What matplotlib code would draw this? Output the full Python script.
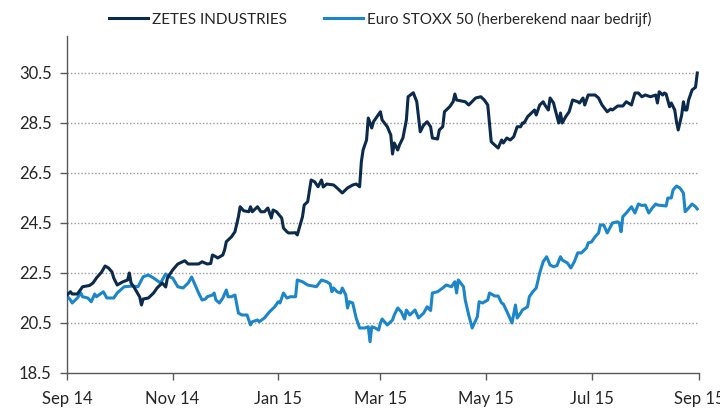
import numpy as np
import pandas as pd
import matplotlib
matplotlib.use("Agg")
import matplotlib.pyplot as plt
import matplotlib.dates as mdates

plt.rcParams['font.family'] = ['Lato', 'DejaVu Sans']

# days since 2014-09-01 and closing values
zetes_days = [0, 2, 3, 6, 9, 13, 15, 17, 20, 22, 24, 26, 27, 29, 32, 35, 36, 37, 39, 42,
              43, 44, 47, 50, 52, 55, 57, 58, 61, 64, 68, 70, 76, 78, 81, 83, 84, 86, 87, 90,
              91, 92, 95, 97, 99, 100, 102, 105, 106, 107, 110, 112, 114, 116, 118, 119, 121, 124, 125, 127,
              128, 132, 133, 136, 137, 139, 141, 143, 145, 147, 148, 150, 154, 156, 159, 162, 165, 167, 169, 170,
              171, 173, 174, 176, 177, 179, 181, 182, 185, 187, 188, 189, 191, 192, 194, 196, 197, 200, 202, 203,
              204, 206, 208, 210, 211, 214, 215, 217, 218, 221, 223, 224, 225, 230, 232, 236, 239, 241, 243, 245,
              247, 249, 251, 252, 254, 256, 258, 260, 262, 263, 264, 266, 269, 270, 271, 273, 275, 276, 278, 279,
              281, 282, 284, 285, 286, 288, 290, 292, 295, 296, 298, 299, 301, 305, 307, 309, 312, 314, 315, 318,
              321, 323, 326, 328, 330, 332, 334, 337, 340, 341, 342, 344, 345, 346, 348, 349, 351, 352, 353, 355,
              356, 357, 358, 359, 361, 363, 364]
zetes = [21.62, 21.75, 21.66, 21.66, 21.95, 22.0, 22.1, 22.3, 22.54, 22.78, 22.7, 22.54, 22.3, 22.02, 22.14, 22.22, 22.5, 22.1, 21.9, 21.54,
         21.22, 21.46, 21.5, 21.7, 21.9, 22.1, 21.94, 22.3, 22.62, 22.86, 22.99, 22.86, 22.86, 22.95, 22.86, 22.88, 23.22, 23.15, 23.1, 23.22,
         23.42, 23.75, 23.95, 24.15, 24.75, 25.15, 24.99, 24.95, 25.15, 24.95, 25.15, 24.95, 24.95, 25.1, 24.7, 25.02, 24.95, 24.7, 24.3, 24.15,
         24.1, 24.11, 24.02, 24.75, 25.22, 25.35, 26.22, 26.15, 25.95, 26.22, 25.94, 26.06, 26.02, 25.9, 25.7, 25.9, 26.02, 26.06, 25.95, 26.95,
         27.42, 27.82, 28.7, 28.3, 28.55, 28.75, 28.95, 28.62, 28.35, 28.02, 27.26, 27.7, 27.42, 27.62, 27.9, 28.62, 29.55, 29.71, 29.35, 28.75,
         28.15, 28.42, 28.55, 28.35, 27.9, 27.86, 28.22, 28.35, 28.95, 29.15, 29.35, 29.66, 29.42, 29.35, 29.22, 29.5, 29.55, 29.42, 29.22, 27.75,
         27.62, 27.5, 27.82, 27.7, 27.9, 27.82, 27.95, 28.35, 28.35, 28.5, 28.5, 28.75, 28.95, 29.02, 28.82, 29.22, 29.35, 29.22, 29.02, 29.5,
         29.3, 29.02, 28.5, 28.9, 28.5, 28.75, 28.95, 29.42, 29.35, 29.3, 29.5, 29.22, 29.62, 29.62, 29.5, 29.22, 28.95, 29.06, 29.02, 29.18,
         29.18, 29.35, 29.22, 29.7, 29.7, 29.55, 29.62, 29.55, 29.62, 29.3, 29.75, 29.62, 29.7, 29.66, 29.15, 29.3, 29.02, 28.55, 28.22, 28.82,
         29.35, 29.02, 29.02, 29.42, 29.82, 29.93, 30.5]

stoxx_days = [0, 2, 3, 6, 8, 9, 12, 14, 16, 17, 21, 23, 27, 29, 33, 38, 41, 44, 47, 50,
              54, 57, 59, 61, 64, 67, 70, 72, 74, 76, 78, 80, 81, 84, 85, 86, 88, 90, 92, 93,
              95, 97, 99, 101, 104, 106, 107, 110, 111, 114, 117, 120, 122, 123, 125, 127, 129, 132, 133, 136,
              139, 144, 147, 150, 152, 153, 154, 156, 158, 159, 161, 162, 163, 165, 167, 169, 172, 174, 175, 176,
              178, 180, 181, 182, 185, 188, 189, 191, 193, 195, 196, 198, 201, 203, 206, 208, 210, 211, 214, 217,
              219, 222, 224, 225, 226, 229, 230, 232, 234, 237, 238, 240, 243, 244, 247, 249, 251, 252, 255, 257,
              259, 260, 262, 263, 266, 267, 269, 271, 273, 275, 277, 279, 281, 283, 285, 286, 289, 291, 293, 295,
              297, 300, 301, 303, 305, 307, 308, 310, 312, 315, 318, 319, 320, 321, 323, 326, 328, 330, 332, 334,
              336, 338, 340, 341, 346, 347, 349, 350, 352, 354, 356, 357, 359, 361, 363, 364]
stoxx = [21.58, 21.42, 21.3, 21.5, 21.7, 21.55, 21.5, 21.35, 21.66, 21.55, 21.75, 21.5, 21.5, 21.7, 21.95, 21.98, 21.95, 22.35, 22.42, 22.3,
         22.1, 22.46, 22.35, 22.3, 21.95, 21.9, 22.1, 22.34, 22.02, 21.7, 21.42, 21.46, 21.55, 21.62, 21.7, 21.42, 21.3, 21.5, 21.82, 21.55,
         21.55, 21.62, 20.9, 20.82, 20.82, 20.42, 20.55, 20.62, 20.55, 20.7, 20.95, 21.15, 21.35, 21.3, 21.7, 21.5, 21.55, 21.55, 22.22, 22.15,
         22.02, 21.95, 22.22, 22.15, 22.06, 21.75, 21.9, 21.75, 21.7, 21.9, 21.62, 21.1, 21.35, 21.3, 20.7, 20.3, 20.3, 20.35, 19.75, 20.35,
         20.3, 20.22, 20.5, 20.66, 20.42, 20.62, 20.82, 21.1, 20.95, 20.66, 21.02, 20.82, 21.02, 20.7, 20.9, 21.15, 21.0, 21.7, 21.75, 21.9,
         22.02, 21.95, 22.15, 21.7, 22.22, 21.95, 21.42, 20.82, 20.3, 20.75, 21.35, 21.3, 21.42, 21.7, 21.58, 21.58, 21.3, 21.26, 20.82, 20.5,
         21.22, 20.7, 20.9, 21.02, 21.15, 21.55, 21.75, 21.9, 22.5, 22.95, 23.15, 22.82, 22.75, 22.8, 23.15, 23.02, 22.9, 22.7, 22.95, 23.31,
         23.3, 23.5, 23.7, 23.75, 23.95, 24.1, 24.42, 24.42, 24.1, 24.5, 24.55, 24.5, 24.15, 24.75, 24.9, 25.15, 24.9, 25.26, 25.2, 25.22,
         24.9, 25.1, 25.26, 25.22, 25.18, 25.5, 25.5, 25.82, 25.98, 25.9, 25.7, 24.95, 25.1, 25.26, 25.15, 25.06]

start = pd.Timestamp('2014-09-01')
zetes_dates = start + pd.to_timedelta(zetes_days, unit='D')
stoxx_dates = start + pd.to_timedelta(stoxx_days, unit='D')

yticks = [18.5, 20.5, 22.5, 24.5, 26.5, 28.5, 30.5]

dark = '#0c2a4b'
light = '#1c86c8'
text_col = '#262626'
axis_col = '#595959'

fig = plt.figure(figsize=(7.2, 4.09), dpi=100)
ax = fig.add_axes([67 / 720, 1 - 373 / 409, 632 / 720, 337.5 / 409])

for y in yticks[1:]:
    ax.axhline(y, color='#9a9a9a', lw=1, ls=(0, (1, 1.5)), zorder=1)

ax.plot(zetes_dates, zetes, color=dark, lw=2.2, label='ZETES INDUSTRIES', zorder=3)
ax.plot(stoxx_dates, stoxx, color=light, lw=2.2, label='Euro STOXX 50 (herberekend naar bedrijf)', zorder=2)

ax.set_ylim(18.5, 32)
ax.set_xlim(pd.Timestamp('2014-09-01'), pd.Timestamp('2015-09-01'))
ax.set_yticks(yticks)
ax.set_yticklabels([f'{v:.1f}' for v in yticks])
ax.xaxis.set_major_locator(mdates.MonthLocator(bymonth=[1, 3, 5, 7, 9, 11]))
ax.xaxis.set_major_formatter(mdates.DateFormatter('%b %y'))

for s in ['top', 'right']:
    ax.spines[s].set_visible(False)
for s in ['left', 'bottom']:
    ax.spines[s].set_color(axis_col)
    ax.spines[s].set_linewidth(1)
ax.tick_params(axis='both', colors=axis_col, labelcolor=text_col, labelsize=12, length=5, width=1)
ax.tick_params(axis='x', pad=8)
ax.tick_params(axis='y', pad=6)
for lab in ax.get_xticklabels():
    lab.set_clip_on(False)

fig.legend(loc='upper center', bbox_to_anchor=(0.528, 1.005), ncol=2, frameon=False,
           fontsize=11, handlelength=2.6, handletextpad=0.25, columnspacing=2.4,
           labelcolor=text_col)

fig.savefig('out.png', dpi=100)
